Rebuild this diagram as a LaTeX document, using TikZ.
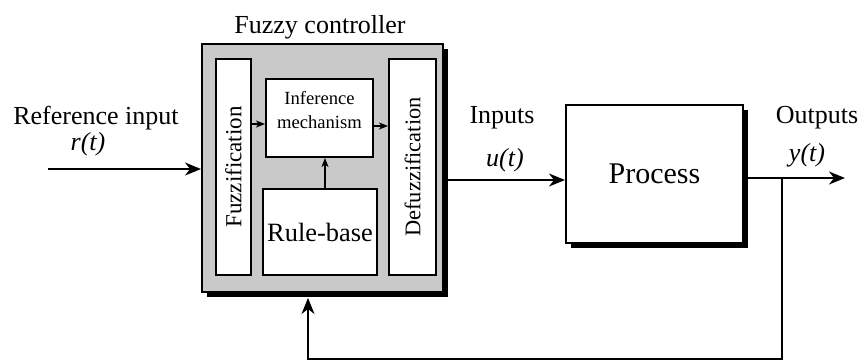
\documentclass[tikz,border=0pt]{standalone}
\usepackage{fontspec}
\setmainfont{Liberation Serif}
\usetikzlibrary{arrows.meta, shadows}

\begin{document}
\begin{tikzpicture}[x=0.5pt, y=-0.5pt,
    blk/.style={draw, line width=1pt, fill=white, inner sep=0pt},
    shd/.style={drop shadow={shadow xshift=2.5pt, shadow yshift=-2.5pt, fill=black, opacity=1}},
    sig/.style={line width=0.9pt, -{Stealth[length=8pt, width=6.5pt, inset=2.5pt]}},
    sm/.style={line width=0.7pt, -{Stealth[length=4.5pt, width=3.5pt, inset=1.2pt]}},
    lbl/.style={font=\fontsize{13}{15}\selectfont, inner sep=0pt}]
  \useasboundingbox (0,0) rectangle (858,361);

  % the controller and its three stages
  \node[blk, shd, fill=black!21, minimum width=120.5pt, minimum height=124pt] (ctrl) at (322.5,168) {};
  \node[blk, minimum width=17.5pt, minimum height=108pt] (fuzz) at (233.5,167) {};
  \node[blk, minimum width=53.5pt, minimum height=39pt] (infer) at (319.5,118) {};
  \node[blk, minimum width=57pt, minimum height=43pt] (rule) at (320,232)
    {\fontsize{13.2}{15}\selectfont Rule-base};
  \node[blk, minimum width=23.5pt, minimum height=108pt] (defuzz) at (412.5,167) {};
  \node[rotate=90, font=\fontsize{11.5}{13}\selectfont] (fuzzt) at (fuzz) {Fuzzification};
  \node[rotate=90, font=\fontsize{11.2}{13}\selectfont] (defuzzt) at (defuzz) {Defuzzification};
  \node[align=center, font=\fontsize{9.3}{12}\selectfont, inner sep=0pt] (infert) at (319.5,110)
    {Inference\\mechanism};
  \node[lbl] (ctrlt) at (320,27) {Fuzzy controller};

  % the plant
  \node[blk, shd, minimum width=88.5pt, minimum height=69pt] (proc) at (654.5,174)
    {\fontsize{15}{17}\selectfont Process};

  \draw[sm] (fuzz.east |- 0,124) -- (infer.west |- 0,124);
  \draw[sm] (infer.east |- 0,126) -- (defuzz.west |- 0,126);
  \draw[sm] (rule.north -| 325,0) -- (infer.south -| 325,0);

  % signals
  \coordinate (ref) at (48,169);
  \coordinate (yout) at (845,178);
  \coordinate (tap) at (782,178);
  \coordinate (fbin) at (308,298);
  \draw[sig] (ref) -- (ref -| ctrl.west);
  \draw[sig] (ctrl.east |- 0,180) -- (proc.west |- 0,180);
  \draw[sig] (proc.east |- yout) -- (yout);
  \draw[sig, line width=0.7pt] (tap) -- (782,359) -| (fbin);

  \node[lbl] (reft) at (96,118) {Reference input};
  \node[lbl] (rt) at (88,144) {\textit{r(t)}};
  \node[lbl] (ut1) at (502,118) {Inputs};
  \node[lbl] (ut2) at (505,160) {\textit{u(t)}};
  \node[lbl] (yt1) at (817,118) {Outputs};
  \node[lbl] (yt2) at (807,155) {\textit{y(t)}};
\end{tikzpicture}
\end{document}
